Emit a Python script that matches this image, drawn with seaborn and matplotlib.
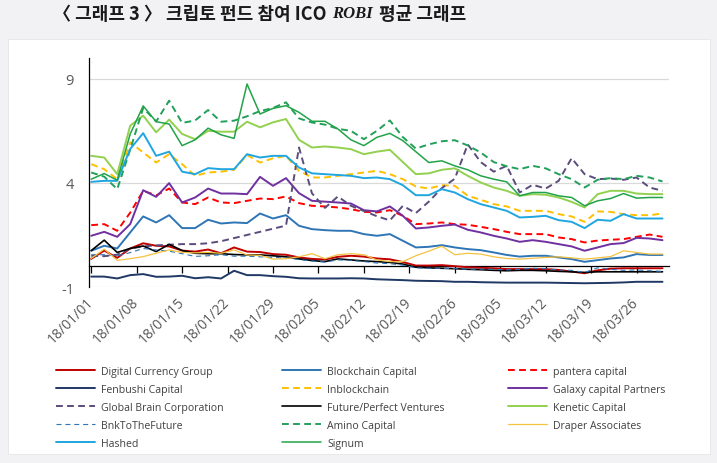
import pandas as pd
import matplotlib
matplotlib.use("Agg")
import matplotlib.pyplot as plt
import matplotlib.dates as mdates
import matplotlib.transforms as mtransforms
from matplotlib.patches import Rectangle
from matplotlib.ticker import NullFormatter
import seaborn as sns

## data: one value every two days, 2018-01-01 .. 2018-03-30
dates = pd.date_range("2018-01-01", periods=45, freq="2D")
tick_dates = pd.date_range("2018-01-01", "2018-03-26", freq="7D")
tick_labels = [d.strftime("%y/%m/%d") for d in tick_dates]
y_ticks = [-1, 4, 9]

digital_currency_group = [0.35, 0.75, 0.4, 0.85, 1.1, 0.98, 0.95, 0.75, 0.7, 0.8, 0.62, 0.9, 0.7, 0.68, 0.58,
                          0.55, 0.42, 0.35, 0.32, 0.45, 0.5, 0.46, 0.37, 0.33, 0.2, 0.03, 0.03, 0.05, 0.0, -0.05,
                          -0.08, -0.1, -0.14, -0.14, -0.14, -0.14, -0.18, -0.26, -0.34, -0.2, -0.12, -0.1, -0.1, -0.1, -0.1]
blockchain_capital = [0.74, 0.98, 0.85, 1.62, 2.39, 2.1, 2.45, 1.83, 1.83, 2.23, 2.05, 2.1, 2.07, 2.53, 2.29,
                      2.45, 1.94, 1.78, 1.73, 1.7, 1.7, 1.54, 1.46, 1.54, 1.22, 0.9, 0.93, 1.01, 0.9, 0.82,
                      0.77, 0.66, 0.54, 0.46, 0.5, 0.5, 0.42, 0.34, 0.21, 0.29, 0.37, 0.42, 0.58, 0.54, 0.54]
pantera_capital = [1.97, 2.02, 1.7, 2.57, 3.62, 3.4, 3.73, 3.06, 2.98, 3.3, 3.06, 3.03, 3.14, 3.25, 3.22,
                   3.35, 3.03, 2.9, 2.87, 2.82, 2.74, 2.61, 2.58, 2.69, 2.42, 2.02, 2.05, 2.1, 2.02, 1.99,
                   1.89, 1.78, 1.65, 1.54, 1.54, 1.54, 1.38, 1.3, 1.14, 1.23, 1.27, 1.3, 1.41, 1.52, 1.41]
fenbushi_capital = [-0.5, -0.5, -0.59, -0.43, -0.38, -0.51, -0.5, -0.46, -0.58, -0.53, -0.59, -0.22, -0.43, -0.43, -0.48,
                    -0.51, -0.58, -0.59, -0.59, -0.59, -0.58, -0.59, -0.63, -0.65, -0.67, -0.7, -0.71, -0.72, -0.75, -0.75,
                    -0.77, -0.78, -0.79, -0.79, -0.79, -0.79, -0.8, -0.81, -0.82, -0.81, -0.8, -0.78, -0.75, -0.75, -0.75]
inblockchain = [4.9, 4.66, 4.18, 5.95, 5.46, 4.98, 5.38, 4.9, 4.34, 4.5, 4.54, 4.63, 5.34, 4.98, 5.18,
                5.3, 4.58, 4.26, 4.26, 4.34, 4.42, 4.5, 4.58, 4.42, 4.18, 3.83, 3.73, 3.89, 3.86, 3.38,
                3.19, 2.98, 2.87, 2.66, 2.66, 2.66, 2.5, 2.39, 2.13, 2.63, 2.61, 2.5, 2.45, 2.45, 2.53]
galaxy_capital = [1.46, 1.65, 1.41, 2.02, 3.65, 3.33, 3.99, 3.06, 3.3, 3.73, 3.49, 3.49, 3.46, 4.29, 3.86,
                  4.23, 3.51, 3.14, 3.1, 3.06, 3.01, 2.69, 2.63, 2.87, 2.42, 1.81, 1.86, 1.94, 2.0, 1.75,
                  1.62, 1.46, 1.33, 1.17, 1.25, 1.17, 1.06, 0.95, 0.74, 0.9, 1.06, 1.11, 1.36, 1.33, 1.25]
global_brain = [0.5, 0.48, 0.55, 0.85, 0.95, 1.0, 1.03, 1.06, 1.06, 1.1, 1.2, 1.35, 1.5, 1.65, 1.8,
                1.95, 5.7, 3.5, 2.8, 3.35, 2.9, 2.65, 2.4, 2.2, 2.9, 2.55, 3.1, 3.75, 4.2, 5.85,
                5.0, 4.54, 4.82, 3.54, 3.91, 3.73, 4.1, 5.19, 4.42, 4.18, 4.21, 4.15, 4.26, 3.78, 3.62]
future_perfect = [0.75, 1.25, 0.66, 0.85, 0.97, 0.7, 1.05, 0.75, 0.62, 0.6, 0.6, 0.56, 0.54, 0.54, 0.5,
                  0.45, 0.35, 0.27, 0.22, 0.35, 0.3, 0.25, 0.22, 0.18, 0.1, -0.05, -0.08, -0.1, -0.12, -0.15,
                  -0.17, -0.2, -0.22, -0.2, -0.2, -0.22, -0.25, -0.27, -0.3, -0.27, -0.27, -0.27, -0.27, -0.27, -0.27]
kenetic_capital = [5.3, 5.22, 4.42, 6.75, 7.23, 6.43, 7.04, 6.35, 6.1, 6.5, 6.46, 6.46, 6.94, 6.67, 6.91,
                   7.07, 6.07, 5.7, 5.75, 5.7, 5.62, 5.38, 5.5, 5.59, 5.0, 4.42, 4.46, 4.63, 4.7, 4.34,
                   4.02, 3.78, 3.62, 3.38, 3.46, 3.43, 3.3, 3.09, 2.82, 3.46, 3.62, 3.62, 3.49, 3.46, 3.46]
bnk_to_the_future = [0.55, 0.55, 0.5, 0.65, 0.85, 0.78, 0.72, 0.6, 0.47, 0.5, 0.55, 0.48, 0.48, 0.45, 0.42,
                     0.4, 0.32, 0.25, 0.2, 0.3, 0.28, 0.22, 0.15, 0.12, 0.05, -0.08, -0.1, -0.1, -0.12, -0.14,
                     -0.14, -0.15, -0.18, -0.15, -0.1, -0.12, -0.18, -0.2, -0.3, -0.08, -0.15, -0.2, -0.18, -0.22, -0.25]
amino_capital = [4.5, 4.3, 3.7, 5.6, 7.6, 6.95, 7.95, 6.88, 7.0, 7.5, 6.94, 6.99, 7.2, 7.45, 7.6,
                 7.87, 7.1, 6.9, 6.8, 6.6, 6.5, 6.1, 6.5, 7.0, 6.2, 5.65, 5.85, 6.0, 6.05, 5.8,
                 5.46, 5.0, 4.8, 4.66, 4.82, 4.7, 4.42, 4.18, 3.78, 4.15, 4.23, 4.18, 4.34, 4.26, 4.07]
draper_associates = [0.37, 0.82, 0.28, 0.36, 0.46, 0.62, 0.78, 0.66, 0.64, 0.66, 0.62, 0.78, 0.54, 0.52, 0.34,
                     0.36, 0.45, 0.6, 0.36, 0.55, 0.6, 0.55, 0.3, 0.22, 0.22, 0.5, 0.72, 0.96, 0.55, 0.62,
                     0.58, 0.45, 0.37, 0.34, 0.38, 0.42, 0.45, 0.4, 0.34, 0.4, 0.46, 0.74, 0.66, 0.58, 0.58]
hashed = [4.05, 4.1, 4.1, 5.63, 6.39, 5.3, 5.5, 4.54, 4.42, 4.71, 4.66, 4.66, 5.38, 5.22, 5.3,
          5.3, 4.74, 4.46, 4.42, 4.38, 4.34, 4.23, 4.26, 4.18, 3.89, 3.41, 3.41, 3.7, 3.54, 3.22,
          2.98, 2.82, 2.66, 2.34, 2.37, 2.42, 2.21, 2.13, 1.83, 2.23, 2.18, 2.5, 2.29, 2.29, 2.29]
signum = [4.18, 4.45, 4.13, 6.35, 7.7, 6.94, 6.83, 5.79, 6.07, 6.63, 6.31, 6.14, 8.75, 7.31, 7.58,
          7.71, 7.39, 6.96, 6.96, 6.59, 6.07, 5.79, 6.19, 6.38, 6.03, 5.5, 4.98, 5.06, 4.82, 4.63,
          4.34, 4.18, 4.05, 3.38, 3.54, 3.54, 3.38, 3.30, 2.90, 3.14, 3.25, 3.49, 3.27, 3.30, 3.30]

DASH = (0, (3.5, 2.2))
FINE = (0, (4.5, 3.5))
series = [
    ("Digital Currency Group", digital_currency_group, "#C00000", 1.4, "-"),
    ("Blockchain Capital", blockchain_capital, "#2E75B6", 1.4, "-"),
    ("pantera capital", pantera_capital, "#FF0000", 1.4, DASH),
    ("Fenbushi Capital", fenbushi_capital, "#1F3864", 1.4, "-"),
    ("Inblockchain", inblockchain, "#FFC000", 1.4, DASH),
    ("Galaxy capital Partners", galaxy_capital, "#7030A0", 1.4, "-"),
    ("Global Brain Corporation", global_brain, "#5B4C7C", 1.4, DASH),
    ("Future/Perfect Ventures", future_perfect, "#000000", 1.2, "-"),
    ("Kenetic Capital", kenetic_capital, "#92D050", 1.4, "-"),
    ("BnkToTheFuture", bnk_to_the_future, "#2E75B6", 0.8, FINE),
    ("Amino Capital", amino_capital, "#22A05A", 1.4, DASH),
    ("Draper Associates", draper_associates, "#F5C242", 0.9, "-"),
    ("Hashed", hashed, "#1FA6E0", 1.4, "-"),
    ("Signum", signum, "#22A349", 1.1, "-"),
]

sns.set_style("white")
plt.rcParams["font.family"] = ["Open Sans", "DejaVu Sans"]
plt.rcParams["axes.unicode_minus"] = False

W, H = 717, 464
fig = plt.figure(figsize=(W / 100, H / 100), dpi=100, facecolor="#F2F2F4")
fig.patches.append(Rectangle((8 / W, 1 - 455 / H), 702 / W, 415 / H, transform=fig.transFigure,
                             facecolor="white", edgecolor="#E6E6E6", lw=0.6, zorder=-5))

ax = fig.add_axes([89.3 / W, 1 - 288 / H, (669 - 89.3) / W, (288 - 59) / H])
ax.set_facecolor("white")
ax.set_zorder(2)

for name, vals, color, lw, ls in series:
    df = pd.DataFrame({"date": dates, "value": vals})
    sns.lineplot(data=df, x="date", y="value", ax=ax, color=color, linewidth=lw,
                 linestyle=ls, errorbar=None, label=name, legend=False)

ax.set_ylim(-1, 10)
ax.set_yticks(y_ticks)
ax.yaxis.grid(True, color="#D9D9D9", lw=0.9)
ax.set_axisbelow(True)
ax.set_xlim(mdates.date2num(pd.Timestamp("2018-01-01")) - 0.3, mdates.date2num(pd.Timestamp("2018-03-31")))
ax.set_xticks(tick_dates)
ax.set_xticklabels(tick_labels, rotation=45, ha="right", va="center", rotation_mode="anchor")
shift = mtransforms.ScaledTranslation(4 / 100, 0, fig.dpi_scale_trans)
for lab in ax.get_xticklabels():
    lab.set_transform(lab.get_transform() + shift)
ax.set_xlabel("")
ax.set_ylabel("")
for s in ["top", "right", "bottom"]:
    ax.spines[s].set_visible(False)
ax.spines["left"].set_color("black")
ax.spines["left"].set_linewidth(0.9)
ax.tick_params(axis="y", length=0, pad=11, labelsize=10.5, labelcolor="#595959")
ax.tick_params(axis="x", length=0, pad=9, labelsize=10, labelcolor="#595959")

# axis line at zero with week ticks
sec = ax.secondary_xaxis(0, transform=ax.transData)
sec.set_xticks(mdates.date2num(tick_dates))
sec.xaxis.set_major_formatter(NullFormatter())
sec.tick_params(axis="x", direction="out", length=5, width=0.9, color="black")
sec.spines["bottom"].set_color("black")
sec.spines["bottom"].set_linewidth(0.9)

# legend, three columns filled row by row
handles = ax.get_lines()[:len(series)]
names = [s[0] for s in series]
col_x = [56, 282, 508]
for c in range(3):
    idx = list(range(c, len(series), 3))
    fig.legend([handles[i] for i in idx], [names[i] for i in idx], loc="upper left",
               bbox_to_anchor=(col_x[c] / W, 1 - 367 / H), frameon=False, fontsize=7.6,
               handlelength=3.7, handletextpad=0.6, borderpad=0, borderaxespad=0,
               labelspacing=0.66, labelcolor="#404040")

# title with italic ROBI
kr = ["Noto Sans CJK KR", "DejaVu Sans"]
t1 = fig.text(53 / W, 1 - 14 / H, "〈 그래프 3 〉 크립토 펀드 참여 ICO", va="center", ha="left",
              fontsize=13, fontweight="bold", family=kr, color="#1A1A1A")
fig.canvas.draw()
r = fig.canvas.get_renderer()
x1 = t1.get_window_extent(r).x1
t2 = fig.text((x1 + 6) / W, 1 - 14 / H, "ROBI", va="center", ha="left", fontsize=12,
              fontweight="bold", style="italic", family=["Liberation Serif"], color="#1A1A1A")
fig.canvas.draw()
x2 = t2.get_window_extent(r).x1
fig.text((x2 + 6) / W, 1 - 14 / H, "평균 그래프", va="center", ha="left",
         fontsize=13, fontweight="bold", family=kr, color="#1A1A1A")

fig.savefig("out.png", dpi=100, facecolor=fig.get_facecolor())
